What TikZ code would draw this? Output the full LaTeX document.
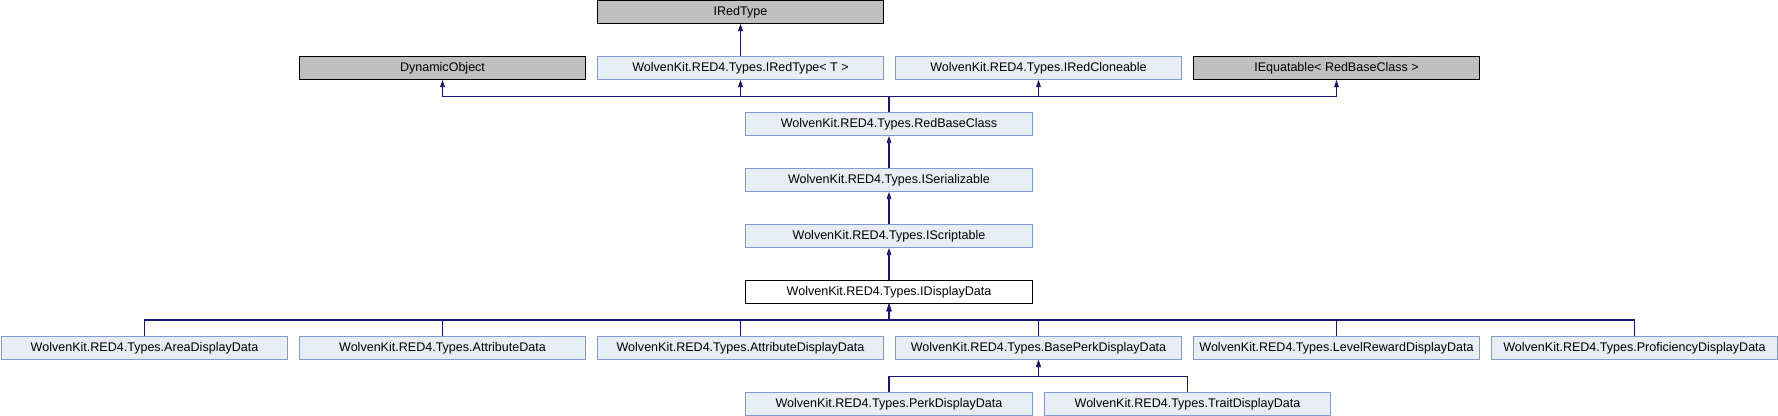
\documentclass[tikz,border=0pt]{standalone}
\usepackage{fontspec}
\setmainfont{Liberation Sans}
\usetikzlibrary{arrows.meta}
\definecolor{azulfondo}{HTML}{E8ECF5}
\definecolor{azulborde}{HTML}{7F9AD0}
\definecolor{gris}{HTML}{BFBFBF}
\definecolor{azulflecha}{HTML}{191970}
\begin{document}
\begin{tikzpicture}[x=0.75pt,y=-0.75pt,
    clase/.style={draw=azulborde,fill=azulfondo,line width=0.75pt,minimum width=215pt,minimum height=17pt,inner sep=0pt,font=\fontsize{9.4}{11}\selectfont},
    externa/.style={clase,draw=black,fill=gris},
    actual/.style={clase,draw=black,fill=white},
    flecha/.style={azulflecha,line width=0.8pt,-{Triangle[length=5.5pt,width=3.6pt]}}]
                \useasboundingbox (0,0) rectangle (1778,416);

                % Fila superior
                \node[externa] (ired) at (740.5,12) {IRedType};

                % Padres de RedBaseClass
                \node[externa] (dyn) at (442.5,68) {DynamicObject};
                \node[clase] (iredt) at (740.5,68) {WolvenKit.RED4.Types.IRedType< T >};
                \node[clase] (clone) at (1038.5,68) {WolvenKit.RED4.Types.IRedCloneable};
                \node[externa] (equat) at (1336.5,68) {IEquatable< RedBaseClass >};

                % Cadena central
                \node[clase] (base) at (889,124) {WolvenKit.RED4.Types.RedBaseClass};
                \node[clase] (serial) at (889,180) {WolvenKit.RED4.Types.ISerializable};
                \node[clase] (script) at (889,236) {WolvenKit.RED4.Types.IScriptable};
                \node[actual] (disp) at (889,292) {WolvenKit.RED4.Types.IDisplayData};

                % Hijos
                \node[clase] (area) at (144.5,348) {WolvenKit.RED4.Types.AreaDisplayData};
                \node[clase] (attr) at (442.5,348) {WolvenKit.RED4.Types.AttributeData};
                \node[clase] (attrdisp) at (740.5,348) {WolvenKit.RED4.Types.AttributeDisplayData};
                \node[clase] (perkbase) at (1038.5,348) {WolvenKit.RED4.Types.BasePerkDisplayData};
                \node[clase] (level) at (1336.5,348) {WolvenKit.RED4.Types.LevelRewardDisplayData};
                \node[clase] (prof) at (1634.5,348) {WolvenKit.RED4.Types.ProficiencyDisplayData};

                % Nietos
                \node[clase] (perk) at (889,404) {WolvenKit.RED4.Types.PerkDisplayData};
                \node[clase] (trait) at (1187.5,404) {WolvenKit.RED4.Types.TraitDisplayData};

                % Puntos de las barras
                \coordinate (bus1) at (889,96.5);
                \coordinate (bus2) at (889,320);
                \coordinate (bus3) at (1038.5,376.5);

                % Flechas
                \draw[flecha] (iredt.north) -- (ired.south);
                \foreach \p in {dyn,iredt,clone,equat}
                    \draw[flecha] (base.north) -- (bus1) -| (\p.south);
                \draw[flecha] (serial.north) -- (base.south);
                \draw[flecha] (script.north) -- (serial.south);
                \draw[flecha] (disp.north) -- (script.south);
                \foreach \h in {area,attr,attrdisp,perkbase,level,prof}
                    \draw[flecha] (\h.north) |- (bus2) -- (disp.south);
                \foreach \h in {perk,trait}
                    \draw[flecha] (\h.north) |- (bus3) -- (perkbase.south);
\end{tikzpicture}
\end{document}
